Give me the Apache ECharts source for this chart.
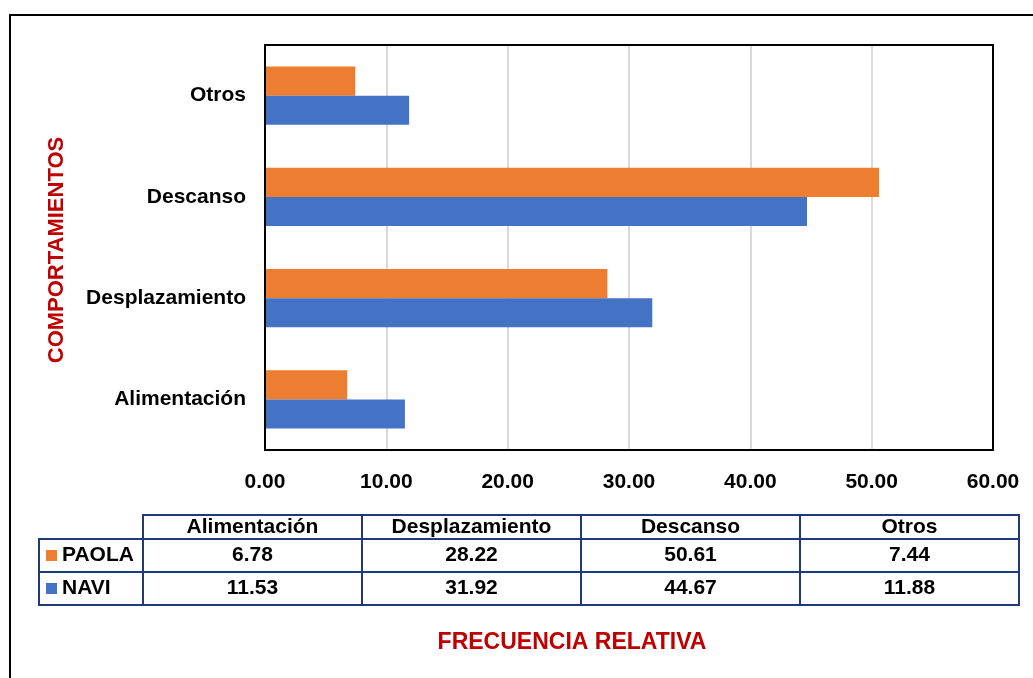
<!DOCTYPE html>
<html>
<head>
<meta charset="utf-8">
<script src="https://cdn.jsdelivr.net/npm/echarts@6/dist/echarts.min.js"></script>
<style>
html,body{margin:0;padding:0;background:#fff;}
#c{width:1033px;height:678px;}
</style>
</head>
<body>
<div id="c"></div>
<script>
// ---- data ----
const categories = ['Alimentación', 'Desplazamiento', 'Descanso', 'Otros'];
const seriesNames = ['PAOLA', 'NAVI'];
const paola = [6.78, 28.22, 50.61, 7.44];
const navi = [11.53, 31.92, 44.67, 11.88];
const xTicks = [0, 10, 20, 30, 40, 50, 60];
const xTitle = 'FRECUENCIA RELATIVA';
const yTitle = 'COMPORTAMIENTOS';

// ---- style ----
const FONT = '"Liberation Sans", Arial, sans-serif';
const ORANGE = '#ED7D31';
const BLUE = '#4472C4';
const RED = '#C00000';
const NAVY = '#1F3A78';

const chart = echarts.init(document.getElementById('c'), null, {renderer: 'canvas'});

// table graphic built from arrays
const tbl = [];
const colX0 = 143, colW = 219, legX = 39, legW = 104;
const rowY = [515, 539, 572], rowH = [24, 33, 33];
const rowsData = [paola, navi];
const colors = [ORANGE, BLUE];
categories.forEach((cat, i) => {
  const x = colX0 + i * colW;
  tbl.push({type: 'rect', shape: {x: x, y: rowY[0], width: colW, height: rowH[0]},
    style: {fill: 'none', stroke: NAVY, lineWidth: 2}});
  tbl.push({type: 'text', x: x + colW / 2, y: rowY[0] + rowH[0] / 2,
    style: {text: cat, font: 'bold 21px ' + FONT, fill: '#000', align: 'center', verticalAlign: 'middle'}});
  rowsData.forEach((arr, r) => {
    tbl.push({type: 'rect', shape: {x: x, y: rowY[r + 1], width: colW, height: rowH[r + 1]},
      style: {fill: 'none', stroke: NAVY, lineWidth: 2}});
    tbl.push({type: 'text', x: x + colW / 2, y: rowY[r + 1] + rowH[r + 1] / 2,
      style: {text: arr[i].toFixed(2), font: 'bold 21px ' + FONT, fill: '#000', align: 'center', verticalAlign: 'middle'}});
  });
});
seriesNames.forEach((nm, r) => {
  const y = rowY[r + 1];
  tbl.push({type: 'rect', shape: {x: legX, y: y, width: legW, height: rowH[r + 1]},
    style: {fill: 'none', stroke: NAVY, lineWidth: 2}});
  tbl.push({type: 'rect', shape: {x: 46, y: y + rowH[r + 1] / 2 - 5.5, width: 11, height: 11},
    style: {fill: colors[r]}});
  tbl.push({type: 'text', x: 62, y: y + rowH[r + 1] / 2,
    style: {text: nm, font: 'bold 21px ' + FONT, fill: '#000', align: 'left', verticalAlign: 'middle'}});
});

const option = {
  backgroundColor: '#fff',
  animation: false,
  grid: {left: 265, top: 45, right: 40, bottom: 228, show: false},
  xAxis: {
    type: 'value', min: xTicks[0], max: xTicks[xTicks.length - 1], interval: xTicks[1] - xTicks[0],
    axisLine: {show: false}, axisTick: {show: false},
    splitLine: {show: true, lineStyle: {color: '#D9D9D9', width: 2}},
    axisLabel: {formatter: v => v.toFixed(2), fontFamily: FONT, fontWeight: 'bold', fontSize: 21, color: '#000', margin: 22}
  },
  yAxis: {
    type: 'category', data: categories,
    axisLine: {show: false}, axisTick: {show: false},
    axisLabel: {fontFamily: FONT, fontWeight: 'bold', fontSize: 21, color: '#000', margin: 19}
  },
  series: [
    {name: seriesNames[0], type: 'bar', data: paola, itemStyle: {color: ORANGE}, barGap: '0%', barCategoryGap: '42.6%'},
    {name: seriesNames[1], type: 'bar', data: navi, itemStyle: {color: BLUE}, barGap: '0%', barCategoryGap: '42.6%'}
  ],
  graphic: [
    {type: 'rect', shape: {x: 10, y: 15, width: 1100, height: 700}, style: {fill: 'none', stroke: '#000', lineWidth: 2}, silent: true},
    {type: 'rect', shape: {x: 265, y: 45, width: 728, height: 405}, style: {fill: 'none', stroke: '#000', lineWidth: 2}, silent: true, z: 100},
    {type: 'text', x: 572, y: 643, style: {text: xTitle, font: 'bold 23px ' + FONT, fill: RED, align: 'center', verticalAlign: 'middle'}},
    {type: 'text', x: 57, y: 250, rotation: Math.PI / 2, style: {text: yTitle, font: 'bold 22px ' + FONT, fill: RED, align: 'center', verticalAlign: 'middle'}}
  ].concat(tbl)
};
chart.setOption(option);
</script>
</body>
</html>
